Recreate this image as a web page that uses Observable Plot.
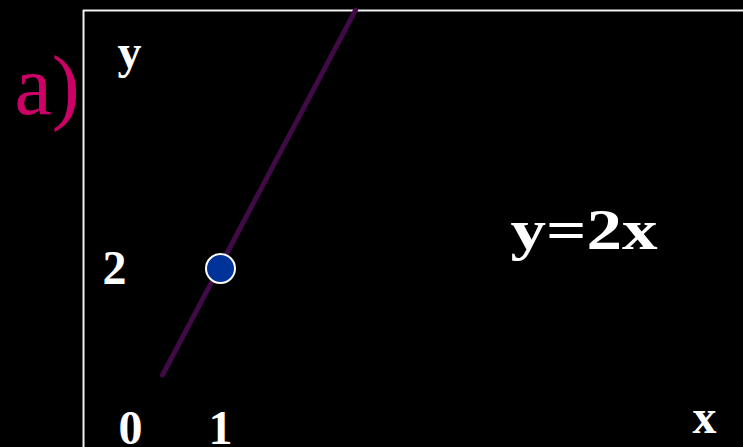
<!DOCTYPE html>
<html><head><meta charset="utf-8">
<script src="https://cdn.jsdelivr.net/npm/d3@7"></script>
<script src="https://cdn.jsdelivr.net/npm/@observablehq/plot@0.6"></script>
<style>html,body{margin:0;padding:0;background:#000;overflow:hidden}#chart svg{display:block}</style>
</head><body><div id="chart"></div>
<script>
// data
const lineX = [0.355, 2.5];
const lineY = [0.75, 5.03];
const pointX = [1];
const pointY = [2];
const xTickValues = [0, 1];
const xTickLabels = ["0", "1"];
const yTickValues = [2];
const yTickLabels = ["2"];
const equationLabel = ["y=2x"];
const panelLabel = ["a)"];
const xAxisLabel = ["x"];
const yAxisLabel = ["y"];

const W = 743, H = 447;
const xDomain = [-130 / 90, 613 / 90];
const yDomain = [-0.0985, 5.142];
const frameX = -0.522, frameY = 5.024;
const serif = "'Liberation Serif', 'Times New Roman', serif";

const lineData = lineX.map((x, i) => ({x, y: lineY[i]}));
const pointData = pointX.map((x, i) => ({x, y: pointY[i]}));

const chart = Plot.plot({
  width: W, height: H,
  margin: 0, marginTop: 0, marginRight: 0, marginBottom: 0, marginLeft: 0,
  style: {background: "#000", overflow: "visible", fontFamily: serif},
  x: {domain: xDomain, axis: null},
  y: {domain: yDomain, axis: null},
  marks: [
    Plot.ruleX([frameX], {y1: frameY, y2: yDomain[0], stroke: "#f2f2f2", strokeWidth: 2}),
    Plot.ruleY([frameY], {x1: frameX, x2: xDomain[1], stroke: "#f2f2f2", strokeWidth: 2}),
    Plot.line(lineData, {x: "x", y: "y", stroke: "#3f0a45", strokeWidth: 5}),
    Plot.dot(pointData, {x: "x", y: "y", r: 14.5, fill: "#003399", stroke: "#fff", strokeWidth: 2}),
    Plot.text(xTickLabels, {x: (d, i) => xTickValues[i], y: -0.063, text: d => d, textAnchor: "middle", lineAnchor: "bottom",
      fill: "#fff", fontFamily: serif, fontWeight: "bold", fontSize: 48}),
    Plot.text(yTickLabels, {x: -0.178, y: (d, i) => yTickValues[i], text: d => d, textAnchor: "middle", lineAnchor: "middle",
      fill: "#fff", fontFamily: serif, fontWeight: "bold", fontSize: 48}),
    Plot.text(yAxisLabel, {x: -0.144, y: 4.356, text: d => d, textAnchor: "start", lineAnchor: "bottom",
      fill: "#fff", fontFamily: serif, fontWeight: "bold", fontSize: 48}),
    Plot.text(xAxisLabel, {x: 6.244, y: 0.077, text: d => d, textAnchor: "start", lineAnchor: "bottom",
      fill: "#fff", fontFamily: serif, fontWeight: "bold", fontSize: 48}),
    Plot.text(equationLabel, {x: 4.222, y: 2.223, text: d => d, textAnchor: "start", lineAnchor: "bottom",
      fill: "#fff", fontFamily: serif, fontWeight: "bold", fontSize: 56}),
    Plot.text(panelLabel, {x: -1.289, y: 3.817, text: d => d, textAnchor: "start", lineAnchor: "bottom",
      fill: "#cc0066", fontFamily: serif, fontWeight: "normal", fontSize: 84})
  ]
});

d3.select(chart).selectAll("text")
  .filter(function () { return this.textContent === "y=2x"; })
  .attr("textLength", 147).attr("lengthAdjust", "spacingAndGlyphs");

document.getElementById("chart").appendChild(chart);
</script>
</body></html>
